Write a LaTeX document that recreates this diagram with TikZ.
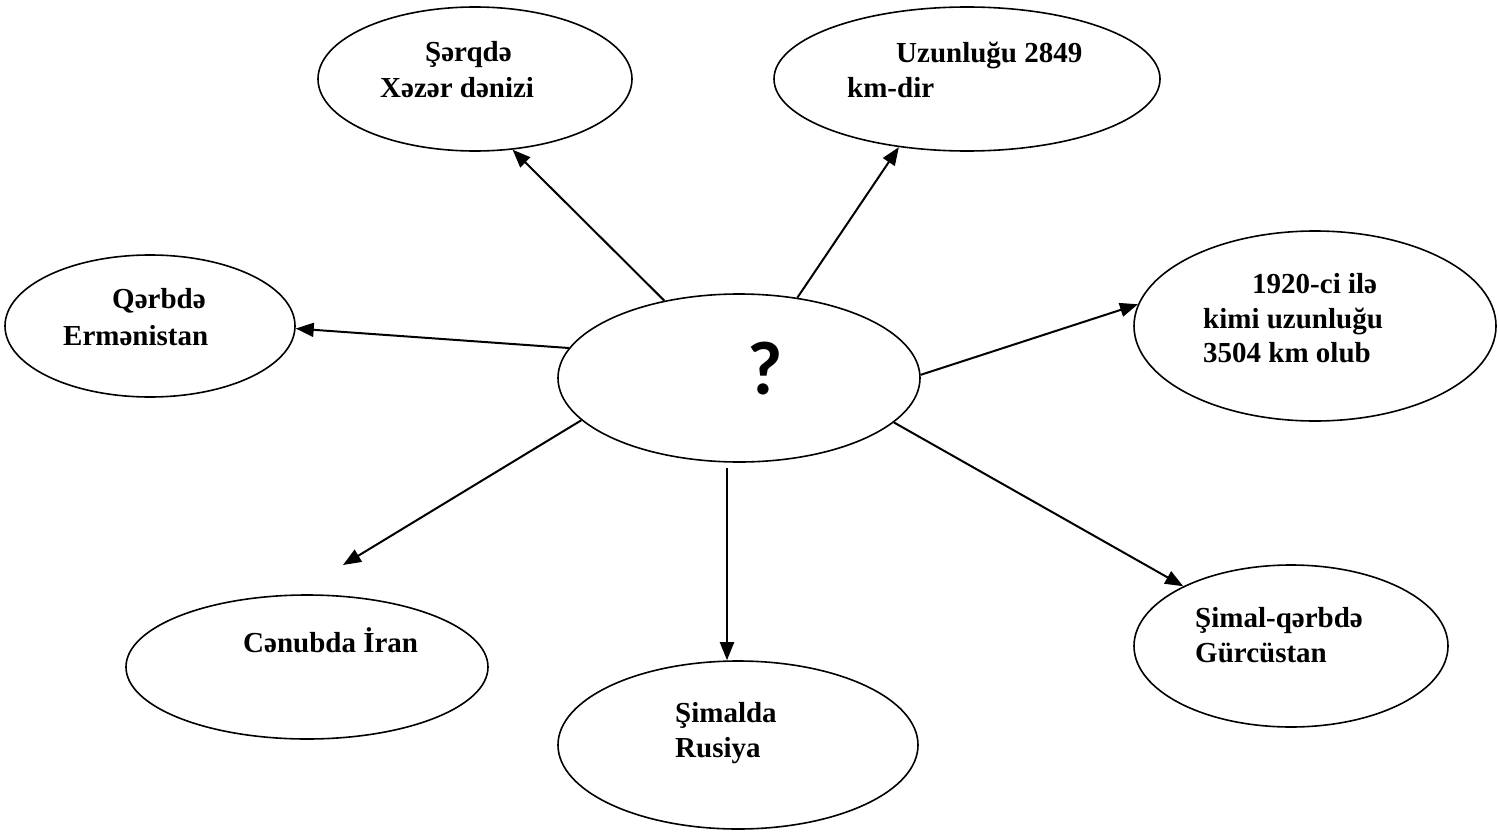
\documentclass[tikz,border=0pt]{standalone}
\usepackage{fontspec}
\setmainfont{Liberation Serif}
\newfontfamily\qfont{Carlito}
\usetikzlibrary{arrows.meta,shapes.geometric}
\begin{document}
\begin{tikzpicture}[x=1pt,y=-1pt,
  bub/.style={draw, line width=1.6pt, ellipse, inner sep=0pt},
  lbl/.style={anchor=base west, inner sep=0pt, font=\fontsize{29}{35}\selectfont\bfseries},
  arr/.style={line width=2pt, -{Triangle[length=18pt,width=14pt]}}]
\useasboundingbox (0,0) rectangle (1498,832);
% ellipses
\node[bub, minimum width=314pt, minimum height=144pt] (tl) at (475,79) {};
\node[bub, minimum width=386pt, minimum height=144pt] (tr) at (967,79) {};
\node[bub, minimum width=290pt, minimum height=142pt] (l) at (150,326) {};
\node[bub, minimum width=362pt, minimum height=168pt] (c) at (739,378) {};
\node[bub, minimum width=362pt, minimum height=190pt] (r) at (1315,326) {};
\node[bub, minimum width=362pt, minimum height=144pt] (bl) at (307,667) {};
\node[bub, minimum width=360pt, minimum height=168pt] (b) at (738,745) {};
\node[bub, minimum width=314pt, minimum height=162pt] (br) at (1291,646) {};
% texts
\node[lbl] (tl1) at (425,62) {Şərqdə};
\node[lbl] (tl2) at (380,98) {Xəzər dənizi};
\node[lbl] (tr1) at (896,63) {Uzunluğu 2849};
\node[lbl] (tr2) at (847,98) {km-dir};
\node[lbl] (r1) at (1252,293) {1920-ci ilə};
\node[lbl] (r2) at (1203,328) {kimi uzunluğu};
\node[lbl] (r3) at (1203,362) {3504 km olub};
\node[lbl] (l1) at (112,308) {Qərbdə};
\node[lbl] (l2) at (63,345) {Ermənistan};
\node[lbl] (bl1) at (243,652) {Cənubda İran};
\node[lbl] (b1) at (675,722) {Şimalda};
\node[lbl] (b2) at (675,757) {Rusiya};
\node[lbl] (br1) at (1195,627) {Şimal-qərbdə};
\node[lbl] (br2) at (1195,662) {Gürcüstan};
\node[inner sep=0pt, font=\qfont\bfseries\fontsize{76}{80}\selectfont] (q) at (765,369) {?};
% arrows
\draw[arr] (c.134.7) -- (tl.-62);
\draw[arr] (c.54.5) -- (tr.225);
\draw[arr] (c.170.8) -- (l.-1);
\draw[arr] (c.1.6) -- (r.173);
\coordinate (blend) at (343,565);
\draw[arr] (c.195.8) -- (blend);
\coordinate (bs) at (727,468);
\draw[arr] (bs) -- (bs |- b.north);
\draw[arr] (c.344.2) -- (br.151);
\end{tikzpicture}
\end{document}
